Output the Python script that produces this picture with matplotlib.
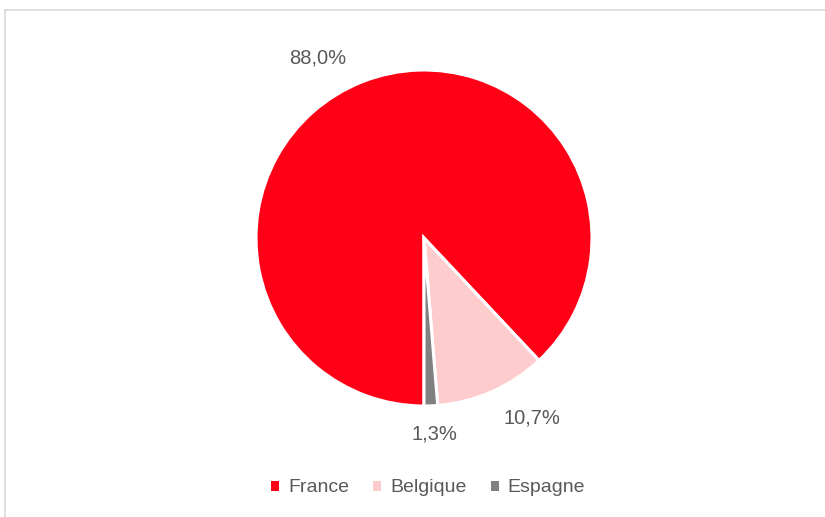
import matplotlib
matplotlib.use("Agg")
import matplotlib.pyplot as plt
from matplotlib.patches import Patch
from matplotlib.lines import Line2D

categories = ["France", "Belgique", "Espagne"]
values = [88.0, 10.7, 1.3]
labels = ["88,0%", "10,7%", "1,3%"]
colors = ["#FF0016", "#FFCCCE", "#808080"]

plt.rcParams['font.family'] = ['Liberation Sans', 'DejaVu Sans']

W, H = 825, 517
fig = plt.figure(figsize=(W / 100, H / 100), dpi=100)

# frame
fig.add_artist(Line2D([5 / W, 1], [1 - 10 / H, 1 - 10 / H], color="#d9d9d9", lw=1.2))
fig.add_artist(Line2D([5 / W, 5 / W], [1 - 10 / H, 0], color="#d9d9d9", lw=1.2))

cx, cy, r = 424, 238, 168
ax = fig.add_axes([(cx - r) / W, (H - cy - r) / H, 2 * r / W, 2 * r / H])
wedges, _ = ax.pie(values, colors=colors, startangle=-90, counterclock=False,
                   radius=1.0, wedgeprops=dict(edgecolor="white", linewidth=2.2))
ax.set_xlim(-1, 1)
ax.set_ylim(-1, 1)
ax.set_aspect("auto")
ax.axis("off")

label_pos = [(-0.63, 1.07), (0.643, -1.07), (0.065, -1.167)]
for (x, y), t in zip(label_pos, labels):
    ax.text(x, y, t, ha="center", va="center", fontsize=14.5, color="#595959")

handles = [Patch(facecolor=c, edgecolor="none") for c in colors]
fig.legend(handles, categories, loc="center", bbox_to_anchor=(0.519, 1 - 488 / H),
           ncol=3, frameon=False, fontsize=14, labelcolor="#595959",
           handlelength=0.42, handleheight=0.42, handletextpad=0.45, columnspacing=1.25)

fig.savefig("out.png", dpi=100, facecolor="white")
